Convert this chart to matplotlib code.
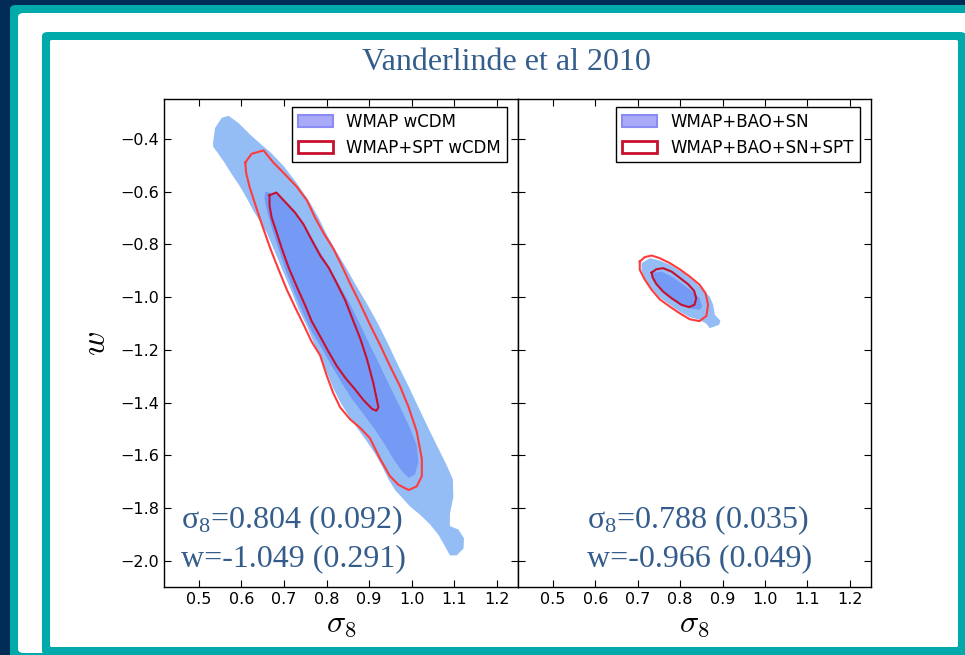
import matplotlib
matplotlib.use("Agg")
import matplotlib.pyplot as plt
from matplotlib.patches import FancyBboxPatch, Patch
import numpy as np

# ---------------- data (sigma8, w) contour outlines ----------------
# Left panel: WMAP wCDM (filled) and WMAP+SPT wCDM (lines)
wmap_2s_s8 = [0.533, 0.538, 0.554, 0.570, 0.593, 0.621, 0.644, 0.668, 0.699, 0.730, 0.758, 0.781,
              0.801, 0.824, 0.848, 0.871, 0.895, 0.922, 0.946, 0.969, 0.993, 1.016, 1.039, 1.063,
              1.083, 1.097, 1.098, 1.090, 1.090, 1.110, 1.123, 1.122, 1.106, 1.090,
              1.079, 1.063, 1.043, 1.020, 0.996, 0.977, 0.961, 0.946, 0.930, 0.914, 0.895, 0.875,
              0.852, 0.832, 0.816, 0.801, 0.785, 0.769, 0.754, 0.734, 0.718, 0.699, 0.679, 0.660,
              0.643, 0.628, 0.613, 0.597, 0.578, 0.560, 0.544, 0.534]
wmap_2s_w = [-0.417, -0.358, -0.319, -0.312, -0.339, -0.384, -0.417, -0.450, -0.502, -0.567, -0.633, -0.698,
             -0.764, -0.829, -0.894, -0.960, -1.025, -1.104, -1.182, -1.261, -1.339, -1.418, -1.496, -1.575,
             -1.640, -1.692, -1.758, -1.823, -1.869, -1.882, -1.915, -1.954, -1.980, -1.980,
             -1.947, -1.902, -1.862, -1.826, -1.794, -1.760, -1.732, -1.692, -1.640, -1.594, -1.548, -1.503,
             -1.450, -1.398, -1.346, -1.287, -1.228, -1.169, -1.110, -1.045, -0.979, -0.908, -0.829, -0.757,
             -0.711, -0.672, -0.626, -0.581, -0.535, -0.489, -0.452, -0.430]

wmap_1s_s8 = [0.656, 0.679, 0.707, 0.734, 0.762, 0.785, 0.809, 0.832, 0.855, 0.879, 0.902, 0.926,
              0.949, 0.973, 0.996, 1.012, 1.016, 1.008, 0.993, 0.977, 0.957, 0.938, 0.914, 0.887,
              0.859, 0.836, 0.812, 0.789, 0.765, 0.742, 0.722, 0.703, 0.687, 0.671, 0.660, 0.654]
wmap_1s_w = [-0.600, -0.607, -0.646, -0.698, -0.764, -0.829, -0.894, -0.960, -1.025, -1.104, -1.182, -1.261,
             -1.339, -1.418, -1.496, -1.562, -1.627, -1.673, -1.686, -1.660, -1.614, -1.562, -1.503, -1.444,
             -1.385, -1.326, -1.261, -1.195, -1.130, -1.051, -0.973, -0.894, -0.816, -0.737, -0.672, -0.626]

spt_2s_s8 = [0.609, 0.624, 0.652, 0.675, 0.703, 0.730, 0.754, 0.773, 0.793, 0.816, 0.836, 0.855,
             0.879, 0.902, 0.926, 0.949, 0.973, 0.993, 1.012, 1.024, 1.024, 1.012, 0.993, 0.969,
             0.949, 0.926, 0.902, 0.879, 0.855, 0.832, 0.816, 0.801, 0.785, 0.765, 0.746, 0.726,
             0.707, 0.687, 0.668, 0.648, 0.632, 0.619, 0.611]
spt_2s_w = [-0.489, -0.456, -0.443, -0.489, -0.535, -0.581, -0.633, -0.698, -0.757, -0.816, -0.881, -0.947,
            -1.025, -1.104, -1.182, -1.261, -1.339, -1.418, -1.510, -1.614, -1.679, -1.718, -1.732, -1.712,
            -1.679, -1.614, -1.535, -1.496, -1.463, -1.418, -1.365, -1.300, -1.221, -1.169, -1.104, -1.038,
            -0.973, -0.894, -0.816, -0.724, -0.646, -0.581, -0.528]

spt_1s_s8 = [0.666, 0.682, 0.703, 0.726, 0.746, 0.765, 0.785, 0.805, 0.824, 0.844, 0.863, 0.879,
             0.895, 0.910, 0.922, 0.917, 0.907, 0.887, 0.868, 0.844, 0.824, 0.805, 0.785, 0.765,
             0.750, 0.730, 0.711, 0.695, 0.682, 0.671, 0.666]
spt_1s_w = [-0.613, -0.603, -0.639, -0.679, -0.724, -0.783, -0.842, -0.888, -0.947, -1.012, -1.091, -1.156,
            -1.235, -1.326, -1.418, -1.431, -1.424, -1.391, -1.352, -1.306, -1.261, -1.208, -1.149, -1.091,
            -1.032, -0.960, -0.888, -0.816, -0.751, -0.698, -0.652]

# Right panel: WMAP+BAO+SN (filled) and WMAP+BAO+SN+SPT (lines)
bao_2s_s8 = [0.709, 0.729, 0.752, 0.776, 0.803, 0.827, 0.846, 0.858, 0.870, 0.878, 0.882, 0.895,
             0.892, 0.870, 0.862, 0.846, 0.823, 0.799, 0.776, 0.752, 0.733, 0.718, 0.709]
bao_2s_w = [-0.871, -0.852, -0.861, -0.877, -0.903, -0.932, -0.960, -0.979, -0.998, -1.029, -1.067, -1.089,
            -1.105, -1.118, -1.101, -1.086, -1.076, -1.055, -1.029, -1.001, -0.966, -0.932, -0.896]

bao_1s_s8 = [0.736, 0.756, 0.780, 0.803, 0.827, 0.846, 0.852, 0.846, 0.827, 0.803, 0.780, 0.760, 0.744, 0.735]
bao_1s_w = [-0.907, -0.903, -0.922, -0.947, -0.976, -1.004, -1.036, -1.048, -1.044, -1.029, -1.004, -0.979,
            -0.950, -0.924]

baospt_2s_s8 = [0.705, 0.717, 0.733, 0.752, 0.776, 0.799, 0.823, 0.846, 0.860, 0.866, 0.862, 0.846,
                0.823, 0.799, 0.776, 0.752, 0.733, 0.717, 0.705]
baospt_2s_w = [-0.865, -0.848, -0.842, -0.852, -0.871, -0.894, -0.922, -0.953, -0.985, -1.029, -1.071, -1.091,
               -1.084, -1.061, -1.036, -1.008, -0.972, -0.934, -0.896]

baospt_1s_s8 = [0.733, 0.744, 0.760, 0.780, 0.799, 0.819, 0.833, 0.838, 0.834, 0.821, 0.803, 0.780,
                0.760, 0.744, 0.735]
baospt_1s_w = [-0.907, -0.894, -0.890, -0.903, -0.926, -0.951, -0.976, -1.004, -1.029, -1.038, -1.029, -1.004,
               -0.979, -0.950, -0.924]

x_ticks = [0.5, 0.6, 0.7, 0.8, 0.9, 1.0, 1.1, 1.2]
y_ticks = [-0.4, -0.6, -0.8, -1.0, -1.2, -1.4, -1.6, -1.8, -2.0]
legend_left = ["WMAP wCDM", "WMAP+SPT wCDM"]
legend_right = ["WMAP+BAO+SN", "WMAP+BAO+SN+SPT"]
stats_left = ["0.804 (0.092)", "-1.049 (0.291)"]
stats_right = ["0.788 (0.035)", "-0.966 (0.049)"]
title = "Vanderlinde et al 2010"

# ---------------- styling ----------------
NAVY = "#022b56"
TEAL = "#00a9aa"
LIGHT = "#94bdf6"
DARK = "#759af5"
RED2 = "#ff3b3b"
RED1 = "#c8102e"
TXT = "#345d8c"

plt.rcParams["mathtext.fontset"] = "cm"
W, H = 965, 655
fig = plt.figure(figsize=(W / 100, H / 100), dpi=100, facecolor=NAVY)


def frame(x0, y0, x1, y1, color, r=6):
    fig.patches.append(FancyBboxPatch((x0 / W, 1 - y1 / H), (x1 - x0) / W, (y1 - y0) / H,
                                      boxstyle=f"round,pad=0,rounding_size={r / W}",
                                      transform=fig.transFigure, facecolor=color,
                                      edgecolor="none", zorder=-10))


frame(10, 5, 1000, 661, TEAL)
frame(18, 13, 992, 653, "white")
frame(42, 32, 966, 655, TEAL)
frame(50, 40, 958, 647, "white", r=2)

fig.text(506 / W, 1 - 62 / H, title, family="Liberation Serif", fontsize=23,
         color=TXT, ha="center", va="center")

axL = fig.add_axes([164 / W, 1 - 587 / H, 354 / W, 488 / H])
axR = fig.add_axes([518 / W, 1 - 587 / H, 353 / W, 488 / H])


def draw(ax, o_s8, o_w, i_s8, i_w, ro_s8, ro_w, ri_s8, ri_w):
    ax.fill(o_s8, o_w, color=LIGHT, lw=0, zorder=1)
    ax.fill(i_s8, i_w, color=DARK, lw=0, zorder=2)
    ax.plot(list(ro_s8) + [ro_s8[0]], list(ro_w) + [ro_w[0]], color=RED2, lw=1.5, zorder=3)
    ax.plot(list(ri_s8) + [ri_s8[0]], list(ri_w) + [ri_w[0]], color=RED1, lw=1.5, zorder=4)


draw(axL, wmap_2s_s8, wmap_2s_w, wmap_1s_s8, wmap_1s_w, spt_2s_s8, spt_2s_w, spt_1s_s8, spt_1s_w)
draw(axR, bao_2s_s8, bao_2s_w, bao_1s_s8, bao_1s_w, baospt_2s_s8, baospt_2s_w, baospt_1s_s8, baospt_1s_w)

for ax, labels, stats, tx in [(axL, legend_left, stats_left, 0.048), (axR, legend_right, stats_right, 0.196)]:
    ax.set_xlim(0.418, 1.25)
    ax.set_ylim(-2.1, -0.248)
    ax.set_xticks(x_ticks)
    ax.set_yticks(y_ticks)
    ax.tick_params(direction="in", length=5, width=0.8, top=True, right=True, labelsize=11.5, pad=3.5)
    for s in ax.spines.values():
        s.set_linewidth(1.0)
    ax.set_xlabel(r"$\sigma_8$", fontsize=23, labelpad=1)
    handles = [Patch(facecolor="#a9abf9", edgecolor="#8a8cf3", lw=1.5),
               Patch(facecolor="white", edgecolor=RED1, lw=2)]
    leg = ax.legend(handles, labels, loc="upper right", fontsize=12, fancybox=False,
                    edgecolor="black", framealpha=1, handlelength=2.1, handleheight=0.7,
                    handletextpad=0.8, labelspacing=0.45, borderpad=0.35, borderaxespad=0.5,
                    bbox_to_anchor=(0.992, 1.0))
    leg.get_frame().set_linewidth(1.0)
    ax.text(tx, 0.121, r"$\mathregular{σ_8}$=" + stats[0], transform=ax.transAxes,
            family="Liberation Serif", fontsize=23, color=TXT, va="baseline")
    ax.text(tx, 0.043, "w=" + stats[1], transform=ax.transAxes,
            family="Liberation Serif", fontsize=23, color=TXT, va="baseline")

axR.tick_params(labelleft=False)
axL.set_ylabel(r"$w$", fontsize=24, labelpad=6)

fig.savefig("out.png", dpi=100, facecolor=NAVY)
